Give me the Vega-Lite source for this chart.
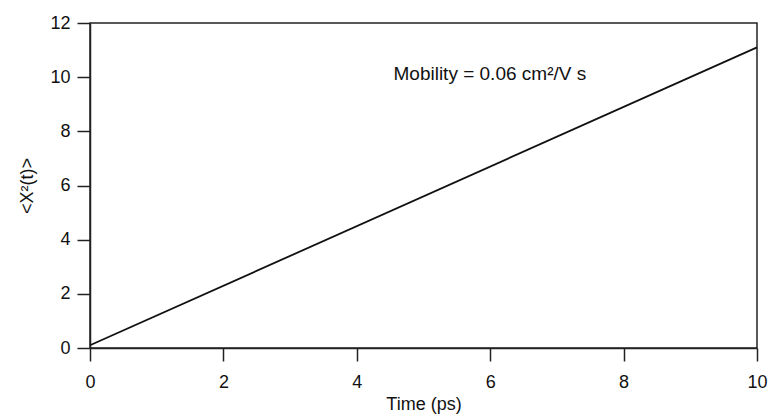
{
  "$schema": "https://vega.github.io/schema/vega-lite/v6.json",
  "width": 667,
  "height": 325,
  "autosize": "none",
  "padding": {"left": 90, "top": 23, "right": 15, "bottom": 69},
  "background": "white",
  "config": {
    "font": "Liberation Sans",
    "view": {"stroke": "#222222", "strokeWidth": 1.5},
    "axis": {
      "grid": false,
      "domainColor": "#222222",
      "domainWidth": 1.5,
      "tickColor": "#222222",
      "tickWidth": 1.5,
      "tickSize": 13,
      "labelFont": "Liberation Sans",
      "labelFontSize": 18,
      "labelColor": "#111111",
      "labelFlush": false,
      "labelOverlap": false,
      "titleFont": "Liberation Sans",
      "titleFontSize": 18,
      "titleFontWeight": "normal",
      "titleColor": "#111111",
      "labelPadding": 7
    }
  },
  "datasets": {
    "line": [
      {"time": 0, "msd": 0.1},
      {"time": 10, "msd": 11.1}
    ],
    "note": [
      {"time": 4.55, "msd": 10.1, "label": "Mobility = 0.06 cm²/V s"}
    ]
  },
  "layer": [
    {
      "data": {"name": "line"},
      "mark": {"type": "line", "color": "#111111", "strokeWidth": 1.8},
      "encoding": {
        "x": {
          "field": "time", "type": "quantitative",
          "scale": {"domain": [0, 10], "nice": false, "zero": false},
          "axis": {"values": [0, 2, 4, 6, 8, 10], "format": "d", "title": "Time (ps)", "labelPadding": 12, "titlePadding": 4}
        },
        "y": {
          "field": "msd", "type": "quantitative",
          "scale": {"domain": [0, 12], "nice": false},
          "axis": {"values": [0, 2, 4, 6, 8, 10, 12], "format": "d", "title": "<X²(t)>", "titlePadding": 13}
        }
      }
    },
    {
      "data": {"name": "note"},
      "mark": {"type": "text", "align": "left", "baseline": "middle", "fontSize": 19, "color": "#111111", "font": "Liberation Sans"},
      "encoding": {
        "x": {"field": "time", "type": "quantitative"},
        "y": {"field": "msd", "type": "quantitative"},
        "text": {"field": "label"}
      }
    }
  ]
}
